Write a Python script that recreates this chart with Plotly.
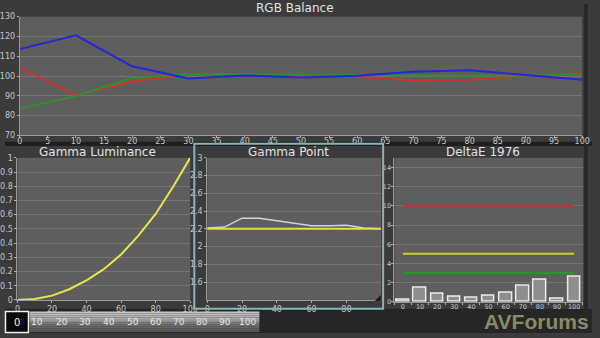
import plotly.graph_objects as go

# ---- data -------------------------------------------------------------
levels = [0, 10, 20, 30, 40, 50, 60, 70, 80, 90, 100]

rgb_red = [104.2, 90.3, 97.4, 100.6, 100.0, 100.2, 99.8, 97.8, 98.1, 100.1, 101.4]
rgb_green = [83.5, 89.9, 99.0, 101.0, 101.0, 100.8, 100.7, 100.5, 100.0, 100.3, 101.0]
rgb_blue = [113.6, 120.6, 104.9, 98.8, 100.3, 99.3, 100.1, 102.2, 102.9, 100.6, 98.1]

gamma_luminance = [0.0, 0.007, 0.03, 0.075, 0.137, 0.216, 0.32, 0.452, 0.605, 0.795, 1.0]

gamma_point = [2.21, 2.22, 2.32, 2.32, 2.29, 2.26, 2.235, 2.235, 2.24, 2.21, 2.20]
gamma_target = [2.2] * len(levels)

delta_e = [0.2, 1.43, 0.79, 0.55, 0.38, 0.68, 0.92, 1.7, 2.25, 0.28, 2.62]
de_red_limit = [10] * len(levels)
de_yellow_limit = [5] * len(levels)
de_green_limit = [3] * len(levels)

rgb_x_ticks = list(range(0, 101, 5))
gp_x_ticks = [0, 20, 40, 60, 80]
gp_y_ticks = [1.6, 1.8, 2.0, 2.2, 2.4, 2.6, 2.8, 3.0]
gp_y_labels = ["1.6", "1.8", "2", "2.2", "2.4", "2.6", "2.8", "3"]
strip_labels = ["10", "20", "30", "40", "50", "60", "70", "80", "90", "100"]

# ---- helpers ----------------------------------------------------------
W, H = 600, 338


def px(x):
    return x / W


def py(y):
    return 1 - y / H


FONT = "DejaVu Sans"
TICKFONT = dict(family=FONT, size=8, color="#c6c6c6")
PANEL_BG = "#3b3b3b"
PLOT_BG = "#5e5e5e"
GRID = "#747474"
AXLINE = "#9a9a9a"


def axis_style(**kw):
    d = dict(
        showgrid=False, zeroline=False, showline=True, linecolor=AXLINE,
        linewidth=1, ticks="outside", ticklen=2, tickcolor="#b0b0b0",
        tickfont=TICKFONT, ticklabelstandoff=0, fixedrange=True,
    )
    d.update(kw)
    return d


fig = go.Figure()

# RGB balance
for vals, col in [(rgb_red, "#d23232"), (rgb_green, "#2f902f"), (rgb_blue, "#2626dc")]:
    fig.add_trace(go.Scatter(x=levels, y=vals, mode="lines",
                             line=dict(color=col, width=2),
                             xaxis="x", yaxis="y", showlegend=False))

# Gamma luminance
fig.add_trace(go.Scatter(x=levels, y=gamma_luminance, mode="lines",
                         line=dict(color="#e6e64a", width=2),
                         xaxis="x2", yaxis="y2", showlegend=False))

# Gamma point
fig.add_trace(go.Scatter(x=levels, y=gamma_point, mode="lines",
                         line=dict(color="#d4d4d4", width=1.5),
                         xaxis="x3", yaxis="y3", showlegend=False))
fig.add_trace(go.Scatter(x=levels, y=gamma_target, mode="lines",
                         line=dict(color="#e0e040", width=2),
                         xaxis="x3", yaxis="y3", showlegend=False))

# DeltaE 1976
fig.add_trace(go.Bar(x=levels, y=delta_e, width=7.3,
                     marker=dict(color="#8e8e8e", line=dict(color="#ececec", width=1.5)),
                     xaxis="x4", yaxis="y4", showlegend=False))
for vals, col in [(de_red_limit, "#c83232"), (de_yellow_limit, "#cccc30"),
                  (de_green_limit, "#2a962a")]:
    fig.add_trace(go.Scatter(x=levels, y=vals, mode="lines",
                             line=dict(color=col, width=2),
                             xaxis="x4", yaxis="y4", showlegend=False))

small_font = dict(family=FONT, size=6.5, color="#c6c6c6")
layout = dict(
    width=W, height=H, margin=dict(l=0, r=0, t=0, b=0),
    paper_bgcolor=PANEL_BG, plot_bgcolor=PLOT_BG, bargap=0,
    xaxis=axis_style(domain=[px(15), px(590)], range=[0, 100],
                     tickvals=rgb_x_ticks, anchor="y", ticklabelstandoff=-4),
    yaxis=axis_style(domain=[py(135), py(13)], range=[70, 130], dtick=10,
                     showgrid=True, gridcolor=GRID, anchor="x"),
    xaxis2=axis_style(domain=[px(12.7), px(189.3)], range=[0, 100], dtick=20,
                      anchor="y2", ticklabelstandoff=-1),
    yaxis2=axis_style(domain=[py(304), py(158)], range=[0, 1], dtick=0.1,
                      showgrid=True, gridcolor=GRID, anchor="x2"),
    xaxis3=axis_style(domain=[px(206.7), px(384.5)], range=[0, 100],
                      tickvals=gp_x_ticks, anchor="y3", ticklabelstandoff=-1),
    yaxis3=axis_style(domain=[py(304), py(158)], range=[1.4, 3],
                      tickvals=gp_y_ticks, ticktext=gp_y_labels,
                      showgrid=True, gridcolor=GRID, anchor="x3"),
    xaxis4=axis_style(domain=[px(398), px(591)], range=[-5, 105.3],
                      tickvals=levels, ticks="", anchor="y4", tickfont=small_font,
                      ticklabelstandoff=-2,
                      minor=dict(tick0=5, dtick=10, ticks="outside", ticklen=2,
                                 tickcolor="#b0b0b0")),
    yaxis4=axis_style(domain=[py(306), py(158)], range=[0, 15], dtick=2,
                      showgrid=True, gridcolor=GRID, anchor="x4",
                      tickfont=small_font, ticklabelstandoff=-1),
)
fig.update_layout(**layout)

shapes = []
# dark separator between the top chart and the lower panels
shapes.append(dict(type="rect", xref="paper", yref="paper", layer="below",
                   x0=0, x1=1, y0=py(146), y1=py(141.5),
                   fillcolor="#1f1f1f", line=dict(width=0)))
# right-hand frame strip
shapes.append(dict(type="rect", xref="paper", yref="paper", layer="below",
                   x0=px(592), x1=px(595.5), y0=py(313), y1=1,
                   fillcolor="#262626", line=dict(width=0)))
# bottom toolbar strip
shapes.append(dict(type="rect", xref="paper", yref="paper", layer="below",
                   x0=0, x1=1, y0=0, y1=py(313),
                   fillcolor="#262626", line=dict(width=0)))
# cover for the spill of the luminance axis label into the gamma point frame
shapes.append(dict(type="rect", xref="paper", yref="paper", layer="above",
                   x0=px(193), x1=px(203), y0=py(312), y1=py(305),
                   fillcolor=PANEL_BG, line=dict(width=0)))
# gamma point frame
shapes.append(dict(type="rect", xref="paper", yref="paper", layer="above",
                   x0=px(193.5), x1=px(386.5), y0=py(313), y1=py(143.5),
                   fillcolor="rgba(0,0,0,0)", line=dict(color="#8cb2ba", width=2)))
# resize grip in the gamma point frame
shapes.append(dict(type="path", xref="paper", yref="paper", layer="above",
                   path=f"M {px(384)},{py(299)} L {px(384)},{py(305)} L {px(378)},{py(305)} Z",
                   fillcolor="#1a1a1a", line=dict(width=0)))

# level selector: "0" box
shapes.append(dict(type="rect", xref="paper", yref="paper", layer="above",
                   x0=px(0.5), x1=px(24), y0=py(337.5), y1=py(316),
                   fillcolor="#0a0a0a", line=dict(color="#f0f0f0", width=1.5)))
# level selector: metallic bar built from horizontal bands
bar_top, bar_bot = 316, 337
band_cols = ["#c4c4c4", "#bcbcbc", "#b2b2b2", "#a6a6a6", "#989898", "#8a8a8a",
             "#7c7c7c", "#707070", "#666666", "#5e5e5e", "#585858"]
n = len(band_cols)
for i, c in enumerate(band_cols):
    y0 = bar_top + (bar_bot - bar_top) * i / n
    y1 = bar_top + (bar_bot - bar_top) * (i + 1) / n
    shapes.append(dict(type="rect", xref="paper", yref="paper", layer="above",
                       x0=px(25), x1=px(260), y0=py(y1), y1=py(y0),
                       fillcolor=c, line=dict(width=0)))
fig.update_layout(shapes=shapes)

ann = []
title_font = dict(family=FONT, size=12, color="#e2e2e2")
for text, x, y in [("RGB Balance", 296, 4.5), ("Gamma Luminance", 95, 152),
                   ("Gamma Point", 289.5, 152), ("DeltaE 1976", 489, 152)]:
    ann.append(dict(text=text, x=px(x), y=py(y), xref="paper", yref="paper",
                    xanchor="center", yanchor="middle", showarrow=False,
                    font=title_font, borderpad=0))

ann.append(dict(text="0", x=px(12), y=py(327), xref="paper", yref="paper",
                xanchor="center", yanchor="middle", showarrow=False,
                font=dict(family=FONT, size=10, color="#f4f4f4")))
strip_x = [33, 58, 82, 106, 131, 154, 178, 201, 225, 248]
for lab, x in zip(strip_labels, strip_x):
    ann.append(dict(text=lab, x=px(x), y=py(327), xref="paper", yref="paper",
                    xanchor="center", yanchor="middle", showarrow=False,
                    font=dict(family=FONT, size=9, color="#e6e6e6")))

ann.append(dict(text="AVForums", x=px(543), y=py(326.5), xref="paper", yref="paper",
                xanchor="center", yanchor="middle", showarrow=False, borderpad=0,
                font=dict(family="Liberation Sans", size=21, color="#8a8a66",
                          weight="bold")))
fig.update_layout(annotations=ann)

fig.write_html("out.html")
